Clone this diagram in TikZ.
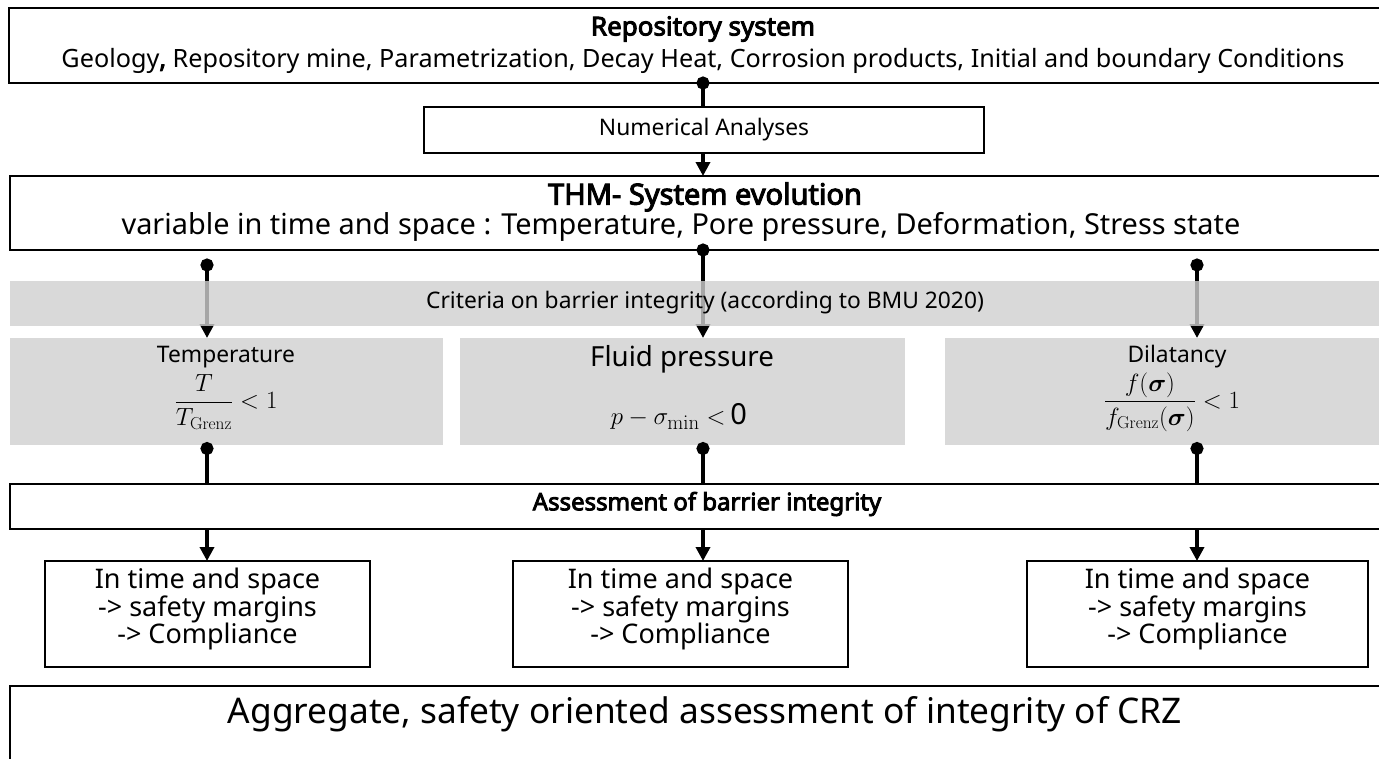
\documentclass[tikz,border=0pt]{standalone}
\usepackage[no-math]{fontspec}
\setmainfont{Noto Sans}[BoldFont={Noto Sans},BoldFeatures={FakeBold=3.6}]
\usepackage{amsmath}
\usetikzlibrary{arrows.meta,calc}
\definecolor{panel}{RGB}{217,217,217}
\definecolor{bandgrey}{RGB}{208,208,208}
\begin{document}
\begin{tikzpicture}[x=1pt,y=-1pt,
  every node/.style={inner sep=0pt,outer sep=0pt},
  frame/.style={draw=black,line width=1.8pt,fill=white,anchor=north west},
  thinframe/.style={draw=black,line width=1.5pt,fill=white,anchor=north west},
  panelbox/.style={fill=panel,draw=none,anchor=north west},
  conn/.style={line width=3.5pt,draw=black},
  dotstart/.style={shorten <=-6.5pt},
  tri/.tip={Triangle[length=14pt,width=14pt]},
  dot/.tip={Circle[length=13pt,width=13pt]},
  small/.style={font=\fontsize{22.8}{26}\selectfont},
  mathfr/.style={font=\fontsize{25}{29}\selectfont},
]
\useasboundingbox (0,0) rectangle (1379,758);
\clip (0,0) rectangle (1379,758);
% column positions
\coordinate (cL) at (207,0);
\coordinate (cM) at (703,0);
\coordinate (cR) at (1197,0);
% boxes
\node[frame,minimum width=1390pt,minimum height=75pt] (top) at (9,8) {};
\node[font=\bfseries\fontsize{26}{30}\selectfont] (toptitle) at (703,29) {Repository system};
\node[font=\fontsize{25.2}{30}\selectfont] (toptext) at (703,61) {Geology\textbf{,} Repository mine, Parametrization, Decay Heat, Corrosion products, Initial and boundary Conditions};

\node[frame,minimum width=560pt,minimum height=46pt] (num) at (424,107) {};
\node[small] (numtext) at (num.center) {Numerical Analyses};

\node[frame,minimum width=1390pt,minimum height=74pt] (thm) at (10,176) {};
\node[font=\bfseries\fontsize{29}{34}\selectfont] (thmtitle) at (705,197) {THM- System evolution};
\node[font=\fontsize{28.9}{34}\selectfont] (thmtext) at (681,227) {variable in time and space : Temperature, Pore pressure, Deformation, Stress state};

\node[panelbox,minimum width=433pt,minimum height=107pt] (gL) at (10,338) {};
\node[panelbox,minimum width=445pt,minimum height=107pt] (gM) at (460,338) {};
\node[panelbox,minimum width=504pt,minimum height=107pt] (gR) at (945,338) {};
\node[small] (gLt) at (226,357) {Temperature};
\node[mathfr] (gLm) at (226,402) {$\dfrac{T}{T_{\mathrm{Grenz}}}<1$};
\node[font=\fontsize{27.7}{32}\selectfont] (gMt) at (682,359) {Fluid pressure};
\node[font=\fontsize{29}{34}\selectfont] (gMm) at (679,416) {$p-\sigma_{\mathrm{min}}<$\,0};
\node[small] (gRt) at (1177,357) {Dilatancy};
\node[mathfr] (gRm) at (1172,402) {$\dfrac{f(\boldsymbol{\sigma})}{f_{\mathrm{Grenz}}(\boldsymbol{\sigma})}<1$};

\node[frame,minimum width=1390pt,minimum height=45pt] (ass) at (10,484) {};
\node[font=\bfseries\fontsize{24}{28}\selectfont] (asstext) at (707,504) {Assessment of barrier integrity};

\node[thinframe,minimum width=325pt,minimum height=106pt] (rL) at (45,561) {};
\node[thinframe,minimum width=335pt,minimum height=106pt] (rM) at (513,561) {};
\node[thinframe,minimum width=341pt,minimum height=106pt] (rR) at (1027,561) {};
\foreach \b in {rL,rM,rR}{
  \node[font=\fontsize{27}{27.5}\selectfont,align=center,yshift=5pt] (\b t) at (\b.center) {In time and space\\-> safety margins\\-> Compliance};
}

\node[frame,minimum width=1395pt,minimum height=120pt] (agg) at (10,686) {};
\node[font=\fontsize{35.3}{40}\selectfont] (aggtext) at (705,714) {Aggregate, safety oriented assessment of integrity of CRZ};

% free ends for side dots
\coordinate (dL) at (207,265);
\coordinate (dR) at (1197,265);

% connectors
\draw[conn,dotstart,dot-] (top.south -| cM) -- (num.north -| cM);
\draw[conn,-tri] (num.south -| cM) -- (thm.north -| cM);
\draw[conn,dotstart,dot-tri] (thm.south -| cM) -- (gM.north -| cM);
\draw[conn,dotstart,dot-tri] (dL) -- (gL.north -| cL);
\draw[conn,dotstart,dot-tri] (dR) -- (gR.north -| cR);

% criteria band (translucent over the connectors)
\node[anchor=north west,minimum width=1390pt,minimum height=45pt,fill=bandgrey,fill opacity=0.8,text opacity=1] (band) at (10,281) {};
\node[small] (bandtext) at (705,303) {Criteria on barrier integrity (according to BMU 2020)};

\draw[conn,shorten <=-3pt,dot-] (gL.south -| cL) -- (ass.north -| cL);
\draw[conn,shorten <=-3pt,dot-] (gM.south -| cM) -- (ass.north -| cM);
\draw[conn,shorten <=-3pt,dot-] (gR.south -| cR) -- (ass.north -| cR);
\draw[conn,-tri] (ass.south -| cL) -- (rL.north -| cL);
\draw[conn,-tri] (ass.south -| cM) -- (rM.north -| cM);
\draw[conn,-tri] (ass.south -| cR) -- (rR.north -| cR);
\end{tikzpicture}
\end{document}
